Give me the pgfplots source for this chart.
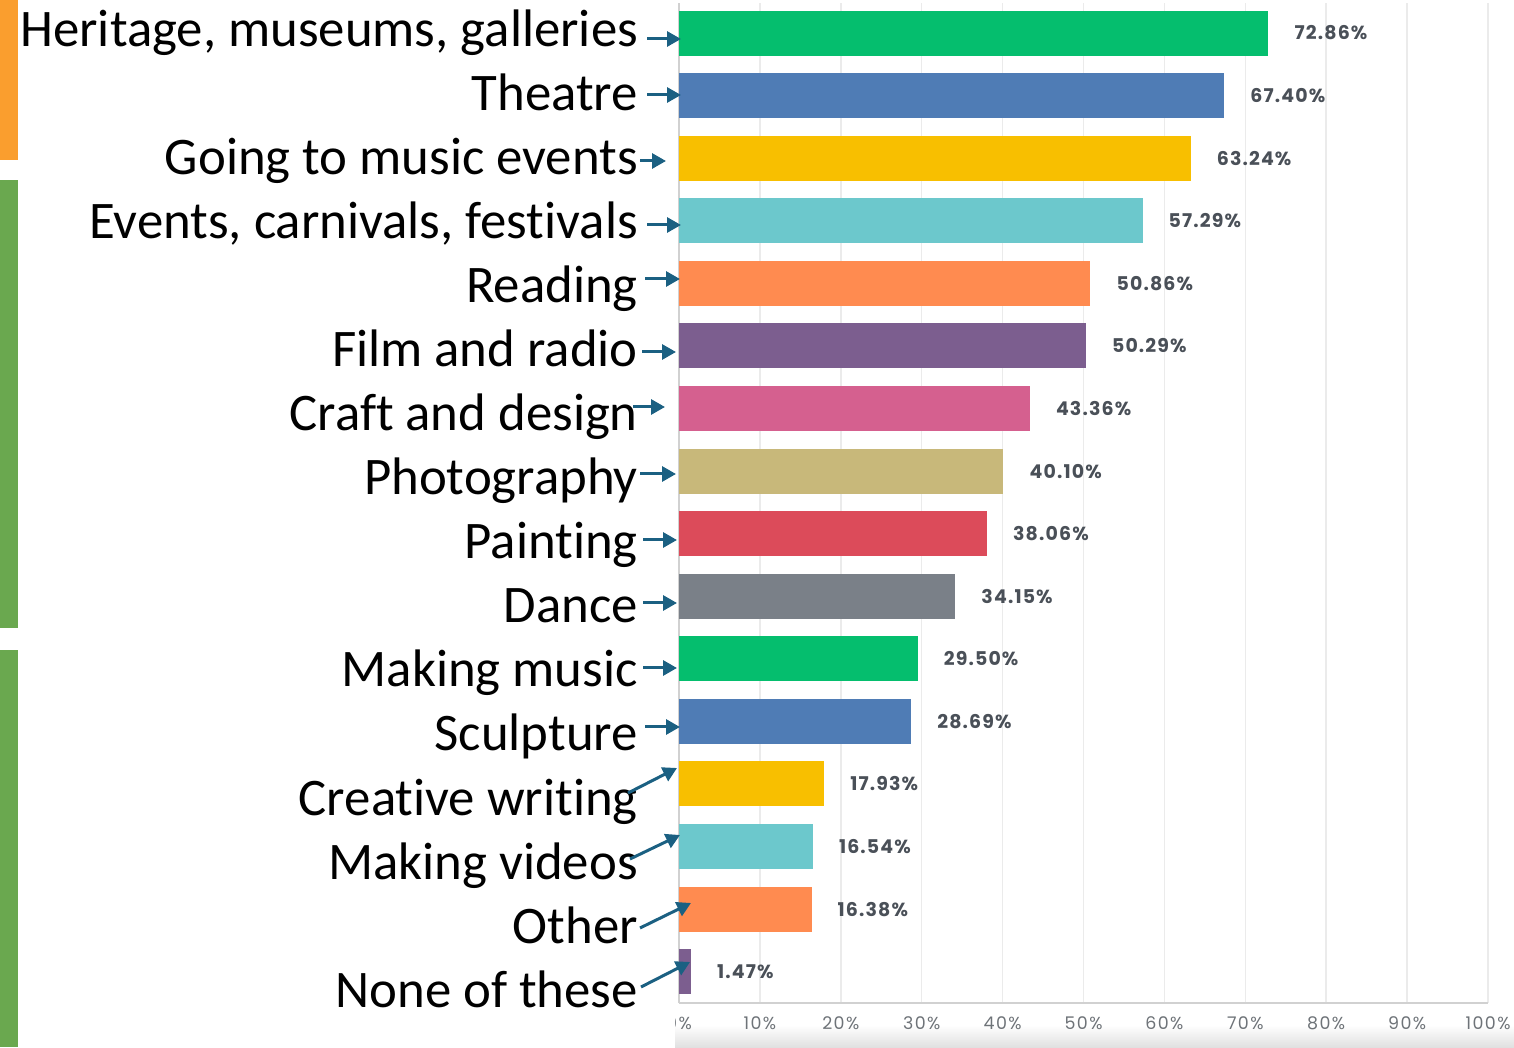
\documentclass[border=0pt]{standalone}
\usepackage{pgfplots}
\pgfplotsset{compat=1.18}
\usepackage{fontspec}
\usetikzlibrary{arrows.meta}
\setmainfont{Carlito}[Ligatures=NoCommon]
\newfontfamily\valfont[LetterSpace=6]{Poppins}
\newfontfamily\tickfont[LetterSpace=8]{Poppins}
\definecolor{cGreen}{HTML}{05BE6E}
\definecolor{cBlue}{HTML}{4F7CB5}
\definecolor{cYellow}{HTML}{F8BF00}
\definecolor{cTeal}{HTML}{6CC8CC}
\definecolor{cOrange}{HTML}{FF8B50}
\definecolor{cPurple}{HTML}{7C5E8F}
\definecolor{cPink}{HTML}{D5608F}
\definecolor{cKhaki}{HTML}{C8B87A}
\definecolor{cRed}{HTML}{DC4B5A}
\definecolor{cGray}{HTML}{7A8088}
\definecolor{arrowc}{HTML}{1B6082}
\definecolor{valgray}{HTML}{4A5058}
\definecolor{tickgray}{HTML}{6E7378}
\definecolor{stripeO}{HTML}{FA9E2E}
\definecolor{stripeG}{HTML}{6AA84F}
\begin{document}
\begin{tikzpicture}[x=1bp,y=1bp]
\useasboundingbox (0,0) rectangle (1514,1047);
\fill[stripeO] (0,1047) rectangle (18,887);
\fill[stripeG] (0,867) rectangle (18,419);
\fill[stripeG] (0,397) rectangle (18,0);
\shade[top color=white, bottom color=black!12] (675,0) rectangle (1514,22);
\begin{axis}[
  at={(679bp,44bp)}, anchor=south west,
  scale only axis, width=809bp, height=1000bp,
  xmin=0, xmax=100, ymin=-0.5, ymax=15.48,
  xbar, bar width=45bp, bar shift=0pt,
  axis x line*=bottom, axis y line*=left,
  axis line style={black!18, line width=1.5bp},
  xmajorgrids, grid style={black!8, line width=1.5bp},
  xtick={0,10,...,100}, ytick=\empty,
  major tick length=0pt,
  /pgf/number format/assume math mode=true,
  xticklabel={\pgfmathprintnumber{\tick}\%},
  xticklabel style={font=\tickfont\fontsize{17.5}{17.5}\selectfont, text=tickgray, inner sep=0pt, anchor=north, yshift=-13bp},
  point meta=x,
  nodes near coords={\pgfmathprintnumber[fixed,fixed zerofill,precision=2,assume math mode=true]{\pgfplotspointmeta}\%},
  every node near coord/.append style={anchor=west, xshift=26bp, inner sep=0pt, font=\valfont\bfseries\fontsize{19}{19}\selectfont, text=valgray},
  clip=false,
]
\addplot[fill=cGreen, draw=none] coordinates {(72.86,15)};
\addplot[fill=cBlue, draw=none] coordinates {(67.40,14)};
\addplot[fill=cYellow, draw=none] coordinates {(63.24,13)};
\addplot[fill=cTeal, draw=none] coordinates {(57.29,12)};
\addplot[fill=cOrange, draw=none] coordinates {(50.86,11)};
\addplot[fill=cPurple, draw=none] coordinates {(50.29,10)};
\addplot[fill=cPink, draw=none] coordinates {(43.36,9)};
\addplot[fill=cKhaki, draw=none] coordinates {(40.10,8)};
\addplot[fill=cRed, draw=none] coordinates {(38.06,7)};
\addplot[fill=cGray, draw=none] coordinates {(34.15,6)};
\addplot[fill=cGreen, draw=none] coordinates {(29.50,5)};
\addplot[fill=cBlue, draw=none] coordinates {(28.69,4)};
\addplot[fill=cYellow, draw=none] coordinates {(17.93,3)};
\addplot[fill=cTeal, draw=none] coordinates {(16.54,2)};
\addplot[fill=cOrange, draw=none] coordinates {(16.38,1)};
\addplot[fill=cPurple, draw=none] coordinates {(1.47,0)};
\end{axis}
\fill[white] (600,0) rectangle (675,39);
\begin{scope}[every node/.style={anchor=base east, inner sep=0pt, font=\fontsize{53}{53}\selectfont}]
\node at (638,1000) {Heritage, museums, galleries};
\node at (638,936) {Theatre};
\node at (638,872) {Going to music events};
\node at (638,808) {Events, carnivals, festivals};
\node at (638,744) {Reading};
\node at (638,680) {Film and radio};
\node at (638,616) {Craft and design};
\node at (638,552) {Photography};
\node at (638,488) {Painting};
\node at (638,424) {Dance};
\node at (638,360) {Making music};
\node at (638,296) {Sculpture};
\node at (638,232) {Creative writing};
\node at (638,168) {Making videos};
\node at (638,104) {Other};
\node at (638,40) {None of these};
\end{scope}
\begin{scope}[arrowc, line width=3bp, -{Triangle[length=14bp,width=15bp]}]
\draw (647,1008) -- (681,1008);
\draw (647,952) -- (681,952);
\draw (640,886) -- (666,886);
\draw (647,822) -- (681,822);
\draw (645,768) -- (680,768);
\draw (642,695) -- (676,695);
\draw (633,640) -- (665,640);
\draw (640,573) -- (676,573);
\draw (643,507) -- (677,507);
\draw (643,444) -- (677,444);
\draw (643,379) -- (677,379);
\draw (645,320) -- (680,320);
\draw (628,254) -- (677,279);
\draw (630,188) -- (680,212);
\draw (640,119) -- (691,144);
\draw (641,60) -- (690,85);
\end{scope}
\end{tikzpicture}
\end{document}
